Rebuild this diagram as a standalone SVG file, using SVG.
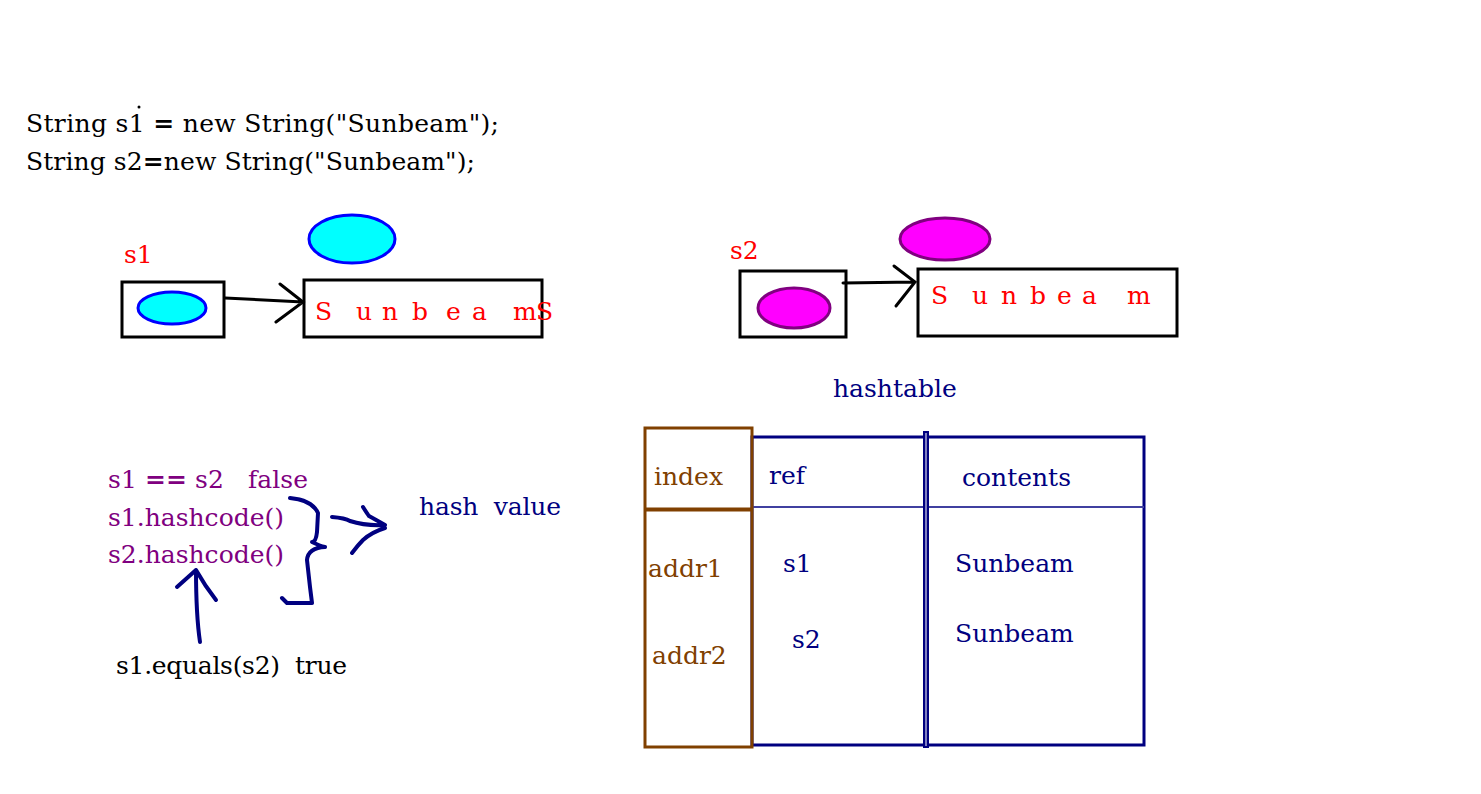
<svg xmlns="http://www.w3.org/2000/svg" width="1481" height="794" viewBox="0 0 1481 794">
<style>
text{font-family:"DejaVu Serif","Liberation Serif",serif;font-size:25px;white-space:pre}
.blk{fill:#000}
.red{fill:#ff0000}
.pur{fill:#800080}
.navy{fill:#000080}
.brn{fill:#804000}
.box{fill:#fff;stroke:#000;stroke-width:3}
.ink{fill:none;stroke:#000080;stroke-width:4;stroke-linecap:round;stroke-linejoin:round}
.blkline{fill:none;stroke:#000;stroke-width:3;stroke-linecap:round}
</style>
<rect width="1481" height="794" fill="#fff"/>
<g id="code">
<text class="blk" x="26" y="132" textLength="473" lengthAdjust="spacing">String s1 <tspan font-weight="bold">=</tspan> new String("Sunbeam");</text>
<circle cx="139" cy="107" r="1.5" fill="#000"/>
<text class="blk" x="26" y="170" textLength="449" lengthAdjust="spacing">String s2<tspan font-weight="bold">=</tspan>new String("Sunbeam");</text>
</g>
<g id="s1-ref">
<text class="red" x="124" y="263">s1</text>
<rect class="box" x="122" y="282" width="102" height="55"/>
<ellipse cx="172" cy="308" rx="34" ry="16" fill="#00ffff" stroke="#0000ff" stroke-width="3"/>
</g>
<g id="s1-obj">
<ellipse cx="352" cy="239" rx="43" ry="24" fill="#00ffff" stroke="#0000ff" stroke-width="3"/>
<rect class="box" x="304" y="280" width="238" height="57"/>
<text class="red" x="315 356 382 412 446 472 513 536" y="320">SunbeamS</text>
</g>
<g id="s2-ref">
<text class="red" x="730" y="259">s2</text>
<rect class="box" x="740" y="271" width="106" height="66"/>
<ellipse cx="794" cy="308" rx="36" ry="20" fill="#ff00ff" stroke="#800080" stroke-width="3"/>
</g>
<g id="s2-obj">
<ellipse cx="945" cy="239" rx="45" ry="21" fill="#ff00ff" stroke="#800080" stroke-width="3"/>
<rect class="box" x="918" y="269" width="259" height="67"/>
<text class="red" x="931 972 1001 1030 1057 1082 1127" y="304">Sunbeam</text>
</g>
<g id="connectors">
<path class="blkline" d="M225 298 L303 302 M280 284 L303 302 L276 322"/>
<path class="blkline" d="M843 283 L915 282 M894 266 L915 282 L896 306"/>
<path class="ink" d="M290 498 Q312 500 318 513 L317 532 Q316 542 312 542 Q320 546 325 547 Q308 548 307 560 L310 587 L312 603 L287 603 L282 598"/>
<path class="ink" d="M332 517 Q345 518 350 521 Q365 526 385 525 M363 507 Q368 515 369 516 Q378 521 385 525 M352 553 Q358 545 363 540 Q372 532 385 528"/>
<path class="ink" d="M200 642 Q196 615 196 570 M177 587 L196 570 Q205 586 216 600"/>
</g>
<g id="equality">
<text class="pur" x="108" y="488" textLength="200" lengthAdjust="spacing">s1 <tspan font-weight="bold">==</tspan> s2   false</text>
<text class="pur" x="108" y="526" textLength="176" lengthAdjust="spacing">s1.hashcode()</text>
<text class="pur" x="108" y="563" textLength="176" lengthAdjust="spacing">s2.hashcode()</text>
<text class="navy" x="419" y="515" textLength="142" lengthAdjust="spacing">hash  value</text>
<text class="blk" x="116" y="674" textLength="231" lengthAdjust="spacing">s1.equals(s2)  true</text>
</g>
<g id="hashtable">
<text class="navy" x="833" y="397">hashtable</text>
<rect x="752" y="437" width="392" height="308" fill="none" stroke="#000080" stroke-width="3"/>
<line x1="752" y1="507" x2="1144" y2="507" stroke="#4040a0" stroke-width="2"/>
<rect x="924" y="432" width="4" height="315" fill="#8080c0" stroke="#000080" stroke-width="2"/>
<rect x="645" y="428" width="107" height="319" fill="none" stroke="#804000" stroke-width="3"/>
<line x1="645" y1="509.5" x2="752" y2="509.5" stroke="#804000" stroke-width="4"/>
<text class="brn" x="654" y="485">index</text>
<text class="brn" x="648" y="577">addr1</text>
<text class="brn" x="652" y="664">addr2</text>
<text class="navy" x="769" y="484">ref</text>
<text class="navy" x="962" y="486">contents</text>
<text class="navy" x="783" y="572">s1</text>
<text class="navy" x="792" y="648">s2</text>
<text class="navy" x="955" y="572">Sunbeam</text>
<text class="navy" x="955" y="642">Sunbeam</text>
</g>
</svg>
